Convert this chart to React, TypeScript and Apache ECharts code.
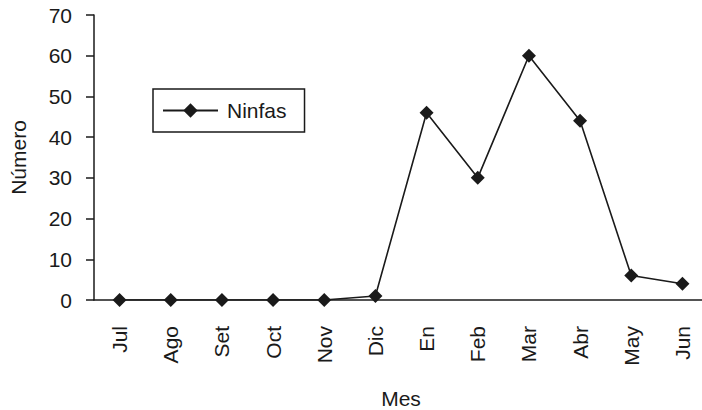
import React, { useEffect, useRef } from "react";
import * as echarts from "echarts";

const months = ["Jul", "Ago", "Set", "Oct", "Nov", "Dic", "En", "Feb", "Mar", "Abr", "May", "Jun"];
const ninfas = [0, 0, 0, 0, 0, 1, 46, 30, 60, 44, 6, 4];
const seriesName = "Ninfas";
const xTitle = "Mes";
const yTitle = "Número";

export default function App() {
  const ref = useRef<HTMLDivElement>(null);
  useEffect(() => {
    if (!ref.current) return;
    const chart = echarts.init(ref.current, undefined, { renderer: "svg" });
    const font = "'Liberation Sans', Arial, Helvetica, sans-serif";
    const ink = "#1a1a1a";
    chart.setOption({
      animation: false,
      backgroundColor: "#fff",
      textStyle: { fontFamily: font },
      grid: { left: 94, width: 614, top: 15, bottom: 110, containLabel: false, outerBoundsMode: "none" },
      legend: {
        left: 153,
        top: 89,
        orient: "vertical",
        data: [{ name: seriesName }],
        borderColor: ink,
        borderWidth: 1.5,
        borderRadius: 0,
        padding: [11, 18, 11, 9],
        itemWidth: 55,
        itemHeight: 18,
        itemGap: 6,
        textStyle: { fontSize: 21, color: ink, fontFamily: font, padding: [0, 0, 0, 4] },
      },
      xAxis: {
        type: "category",
        data: months,
        boundaryGap: true,
        name: xTitle,
        nameLocation: "middle",
        nameGap: 88,
        nameTextStyle: { fontSize: 21, color: ink },
        axisLine: { lineStyle: { color: ink, width: 1.5 } },
        axisTick: { alignWithLabel: false, length: 8, inside: false, lineStyle: { color: ink, width: 1.5 } },
        axisLabel: { rotate: 90, margin: 26, fontSize: 21, color: ink, interval: 0 },
      },
      yAxis: {
        type: "value",
        min: 0,
        max: 70,
        interval: 10,
        name: yTitle,
        nameLocation: "middle",
        nameGap: 65,
        nameTextStyle: { fontSize: 21, color: ink },
        splitLine: { show: false },
        axisLine: { show: true, lineStyle: { color: ink, width: 1.5 } },
        axisTick: { show: true, length: 8, lineStyle: { color: ink, width: 1.5 } },
        axisLabel: { margin: 22, fontSize: 21, color: ink },
      },
      series: [
        {
          name: seriesName,
          type: "line",
          data: ninfas,
          symbol: "diamond",
          symbolSize: 14,
          lineStyle: { color: ink, width: 1.6 },
          itemStyle: { color: ink },
        },
      ],
    });
    return () => chart.dispose();
  }, []);
  return <div ref={ref} style={{ width: 702, height: 410, position: "absolute", left: 0, top: 0 }} />;
}
